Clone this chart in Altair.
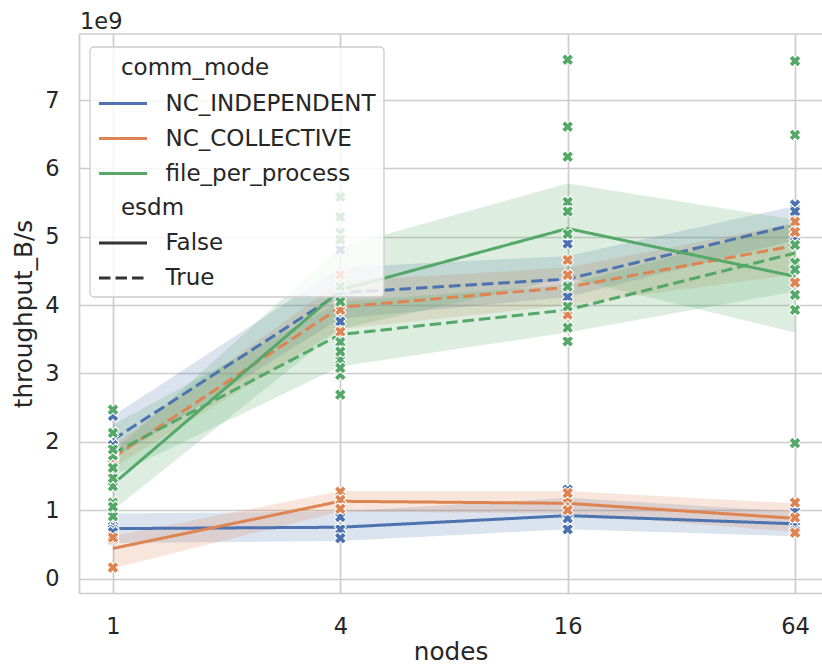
import altair as alt
import pandas as pd

NODES = [1, 4, 16, 64]
MODES = ["NC_INDEPENDENT", "NC_COLLECTIVE", "file_per_process"]
ESDM = ["False", "True"]
COLORS = ["#4c72b0", "#dd8452", "#55a868"]

# mean throughput (units of 1e9 B/s) per node count
ind_false_mean = [0.73, 0.75, 0.92, 0.80]
ind_true_mean = [2.03, 4.18, 4.38, 5.18]
coll_false_mean = [0.44, 1.13, 1.10, 0.88]
coll_true_mean = [1.77, 3.97, 4.26, 4.87]
fpp_false_mean = [1.38, 4.22, 5.12, 4.42]
fpp_true_mean = [1.83, 3.57, 3.93, 4.76]

# confidence band lower / upper
ind_false_lo = [0.52, 0.55, 0.72, 0.62]
ind_false_hi = [0.95, 0.98, 1.18, 0.98]
ind_true_lo = [1.75, 3.80, 4.12, 4.95]
ind_true_hi = [2.38, 4.55, 4.72, 5.45]
coll_false_lo = [0.15, 0.98, 0.95, 0.68]
coll_false_hi = [0.62, 1.28, 1.28, 1.10]
coll_true_lo = [1.62, 3.65, 4.00, 4.45]
coll_true_hi = [1.95, 4.35, 4.55, 5.20]
fpp_false_lo = [1.00, 3.65, 4.40, 3.60]
fpp_false_hi = [1.85, 4.85, 5.78, 5.25]
fpp_true_lo = [1.50, 3.10, 3.60, 4.20]
fpp_true_hi = [2.25, 4.05, 4.30, 5.20]

# individual runs per node count
ind_false_pts = [[0.76, 0.72, 0.68], [0.90, 0.72, 0.59], [1.30, 0.88, 0.72], [0.98, 0.76, 0.70]]
ind_true_pts = [[2.38, 1.95, 1.80], [4.81, 3.76, 4.00], [4.90, 4.12, 4.30], [5.47, 5.37, 5.00]]
coll_false_pts = [[0.57, 0.16, 0.60], [1.27, 1.15, 1.02], [1.18, 1.25, 1.00], [1.11, 0.89, 0.67]]
coll_true_pts = [[1.77, 1.75, 1.80], [4.44, 3.93, 3.61], [4.66, 4.44, 3.86], [5.22, 5.07, 4.33]]
fpp_false_pts = [[0.91, 1.11, 1.35, 1.47, 1.80], [5.58, 5.29, 5.06, 3.46, 3.20, 2.98],
                 [7.59, 6.61, 6.17, 5.51, 5.04, 3.47], [7.57, 6.49, 4.62, 4.15, 1.98]]
fpp_true_pts = [[2.47, 2.13, 1.89, 1.62, 1.05], [4.96, 4.27, 4.05, 3.32, 3.08, 2.69],
                [5.37, 4.27, 3.98, 3.67], [4.88, 4.52, 3.93]]

SERIES = [
    ("NC_INDEPENDENT", "False", ind_false_mean, ind_false_lo, ind_false_hi, ind_false_pts),
    ("NC_INDEPENDENT", "True", ind_true_mean, ind_true_lo, ind_true_hi, ind_true_pts),
    ("NC_COLLECTIVE", "False", coll_false_mean, coll_false_lo, coll_false_hi, coll_false_pts),
    ("NC_COLLECTIVE", "True", coll_true_mean, coll_true_lo, coll_true_hi, coll_true_pts),
    ("file_per_process", "False", fpp_false_mean, fpp_false_lo, fpp_false_hi, fpp_false_pts),
    ("file_per_process", "True", fpp_true_mean, fpp_true_lo, fpp_true_hi, fpp_true_pts),
]

line_rows, pt_rows = [], []
for mode, esdm, mean, lo, hi, pts in SERIES:
    for i, n in enumerate(NODES):
        line_rows.append({"nodes": n, "comm_mode": mode, "esdm": esdm,
                          "mean": mean[i], "lo": lo[i], "hi": hi[i]})
        for v in pts[i]:
            pt_rows.append({"nodes": n, "comm_mode": mode, "esdm": esdm, "value": v})
lines_df = pd.DataFrame(line_rows)
pts_df = pd.DataFrame(pt_rows)

FONT = "DejaVu Sans"
TXT = "#262626"
GRID = "#cccccc"
W, H = 743, 559

x_scale = alt.Scale(type="log", base=2, domain=[0.813, 75.45], nice=False, zero=False)
y_scale = alt.Scale(domain=[-0.212, 7.966], nice=False, zero=False)
color_scale = alt.Scale(domain=MODES, range=COLORS)
dash_scale = alt.Scale(domain=ESDM, range=[[1, 0], [11.5, 5]])

x_axis = alt.Axis(values=NODES, format="d", title="nodes", grid=True, ticks=False, tickSize=0,
                  labelPadding=22, titlePadding=2, domain=True)
y_axis = alt.Axis(values=list(range(8)), format="d", title="throughput_B/s", grid=True,
                  ticks=False, tickSize=0, labelPadding=20, titlePadding=8, domain=True)

legend_common = dict(orient="none", direction="vertical", columns=1, padding=0,
                     symbolType="M-2,0H2", symbolSize=576, symbolStrokeWidth=3,
                     symbolOffset=10.5, labelOffset=29, rowPadding=9, titlePadding=10,
                     labelFontSize=23, titleFontSize=23, titleFontWeight="normal",
                     labelFont=FONT, titleFont=FONT, labelColor=TXT, titleColor=TXT,
                     labelLimit=400, titleLimit=400, zindex=1, legendX=20)

NB = "\u200d\u00a0\u00a0\u00a0"

base = alt.Chart(lines_df)

bands = base.mark_area(opacity=0.2).encode(
    x=alt.X("nodes:Q", scale=x_scale, axis=x_axis),
    y=alt.Y("lo:Q", scale=y_scale, axis=y_axis),
    y2="hi:Q",
    color=alt.Color("comm_mode:N", scale=color_scale, legend=None),
    detail="esdm:N",
)

lines = base.mark_line(strokeWidth=3).encode(
    x=alt.X("nodes:Q", scale=x_scale, axis=x_axis),
    y=alt.Y("mean:Q", scale=y_scale, axis=y_axis),
    color=alt.Color("comm_mode:N", scale=color_scale,
                    legend=alt.Legend(title=NB + "comm_mode", legendY=23, **legend_common)),
    strokeDash=alt.StrokeDash("esdm:N", scale=dash_scale,
                              legend=alt.Legend(title=NB + "esdm", legendY=162.5,
                                                symbolStrokeColor="#333333", **legend_common)),
)

points = alt.Chart(pts_df).mark_point(shape="cross", angle=45, filled=True, size=145,
                                      stroke="white", strokeWidth=1, opacity=1).encode(
    x=alt.X("nodes:Q", scale=x_scale, axis=x_axis),
    y=alt.Y("value:Q", scale=y_scale, axis=y_axis),
    color=alt.Color("comm_mode:N", scale=color_scale, legend=None),
)

one = alt.Data(values=[{"k": 0}])

legend_bg = alt.Chart(one).mark_rect(fill="white", fillOpacity=0.8, stroke=GRID,
                                     strokeWidth=1.3, cornerRadius=4).encode(
    x=alt.value(11), x2=alt.value(305), y=alt.value(13), y2=alt.value(263))

top_spine = alt.Chart(one).mark_rule(color=GRID, strokeWidth=1.7).encode(
    x=alt.value(0), x2=alt.value(W), y=alt.value(0))

offset_text = alt.Chart(one).mark_text(text="1e9", align="left", baseline="alphabetic",
                                       fontSize=22.5, font=FONT, color=TXT).encode(
    x=alt.value(1), y=alt.value(-5))

chart = alt.layer(bands, lines, points, legend_bg, top_spine, offset_text).resolve_legend(
    color="independent", strokeDash="independent"
).properties(
    width=W, height=H,
    autosize=alt.AutoSizeParams(type="none"),
    padding={"left": 79, "top": 34, "right": 0, "bottom": 73},
    background="white",
).configure_view(stroke=None).configure_axis(
    labelFont=FONT, titleFont=FONT, labelFontSize=22.5, titleFontSize=24.7,
    labelColor=TXT, titleColor=TXT, titleFontWeight="normal",
    gridColor=GRID, gridWidth=1.7, domainColor=GRID, domainWidth=1.7,
)

chart.save("out.html", embed_options={"renderer": "svg", "actions": False})
